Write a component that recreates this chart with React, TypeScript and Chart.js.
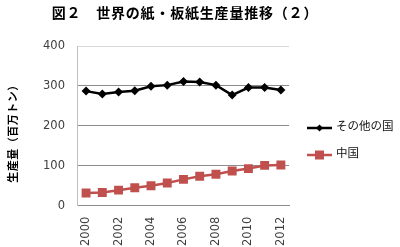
import React, { useEffect, useRef } from "react";
import { Chart, registerables } from "chart.js";

Chart.register(...registerables);

const years = ["2000","2001","2002","2003","2004","2005","2006","2007","2008","2009","2010","2011","2012"];
const others = [287, 280, 285, 288, 299, 302, 311, 310, 302, 277, 296, 296, 290];
const china = [32, 33, 39, 45, 50, 57, 66, 74, 79, 87, 93, 101, 102];
const yTicks = [0, 100, 200, 300, 400];
const titleText = "図２　世界の紙・板紙生産量推移（２）";
const yTitle = "生産量（百万トン）";
const seriesNames = ["その他の国", "中国"];

const JP = '"Noto Sans CJK JP", "Noto Sans", sans-serif';
const NUM = '"DejaVu Sans", Verdana, sans-serif';

const textPlugin = {
  id: "textDecor",
  afterDraw(chart: any) {
    const ctx = chart.ctx;
    const area = chart.chartArea;
    ctx.save();
    // chart title
    ctx.fillStyle = "#000000";
    ctx.font = `bold 14px ${JP}`;
    ctx.textAlign = "center";
    ctx.textBaseline = "middle";
    (ctx as any).letterSpacing = "0.8px";
    ctx.fillText(titleText, 185, 13);
    (ctx as any).letterSpacing = "0.5px";
    // y axis title
    ctx.save();
    ctx.translate(13, 131);
    ctx.rotate(-Math.PI / 2);
    ctx.font = `bold 11px ${JP}`;
    ctx.fillText(yTitle, 0, 0);
    ctx.restore();
    (ctx as any).letterSpacing = "0px";
    // legend
    const x0 = area.right + 18;
    const rows = [area.top + 80, area.top + 107];
    chart.data.datasets.forEach((ds: any, i: number) => {
      const y = rows[i];
      const ly = y + 2;
      ctx.strokeStyle = ds.borderColor;
      ctx.lineWidth = 2.5;
      ctx.beginPath();
      ctx.moveTo(x0, ly);
      ctx.lineTo(x0 + 25, ly);
      ctx.stroke();
      ctx.fillStyle = ds.backgroundColor;
      const cx = x0 + 12.5;
      if (ds.pointStyle === "rectRot") {
        ctx.beginPath();
        ctx.moveTo(cx, ly - 3.5);
        ctx.lineTo(cx + 3.5, ly);
        ctx.lineTo(cx, ly + 3.5);
        ctx.lineTo(cx - 3.5, ly);
        ctx.closePath();
        ctx.fill();
      } else {
        ctx.fillRect(cx - 4.5, ly - 4.5, 9, 9);
      }
      ctx.fillStyle = "#111111";
      ctx.font = `11.5px ${JP}`;
      ctx.textBaseline = "middle";
      ctx.textAlign = "left";
      ctx.fillText(ds.label, x0 + 29, y);
    });
    ctx.restore();
  },
};

export default function App() {
  const ref = useRef<HTMLCanvasElement | null>(null);
  useEffect(() => {
    document.body.style.margin = "0";
    const chart = new Chart(ref.current!, {
      type: "line",
      data: {
        labels: years,
        datasets: [
          {
            label: seriesNames[0],
            data: others,
            borderColor: "#000000",
            backgroundColor: "#000000",
            borderWidth: 2.5,
            pointStyle: "rectRot",
            pointRadius: 4.5,
            pointBorderWidth: 0,
            tension: 0,
          },
          {
            label: seriesNames[1],
            data: china,
            borderColor: "#C0504D",
            backgroundColor: "#C0504D",
            borderWidth: 2.5,
            pointStyle: "rect",
            pointRadius: 6.3,
            pointBorderWidth: 0,
            tension: 0,
          },
        ],
      },
      options: {
        animation: false,
        responsive: true,
        maintainAspectRatio: false,
        layout: { padding: { left: 30, right: 111, top: 46, bottom: -10 } },
        plugins: {
          title: { display: false },
          legend: { display: false },
          tooltip: { enabled: false },
        },
        scales: {
          x: {
            offset: true,
            grid: { display: false, drawTicks: false },
            border: { display: true, color: "#8c8c8c", width: 1 },
            ticks: {
              autoSkip: false,
              maxRotation: 90,
              minRotation: 90,
              color: "#404040",
              font: { family: NUM, size: 11.5 },
              padding: 11,
              callback: (_v: any, i: number) => (i % 2 === 0 ? years[i] : ""),
            },
          },
          y: {
            min: 0,
            max: 400,
            afterBuildTicks: (axis: any) => {
              axis.ticks = yTicks.map((v) => ({ value: v }));
            },
            grid: {
              drawTicks: false,
              color: (c: any) => (c.tick && c.tick.value === 400 ? "#d9d9d9" : "#8c8c8c"),
              lineWidth: 1,
            },
            border: { display: true, color: "#bfbfbf", width: 1 },
            ticks: {
              color: "#404040",
              font: { family: NUM, size: 11.5 },
              padding: 13,
            },
          },
        },
      },
      plugins: [textPlugin],
    });
    return () => chart.destroy();
  }, []);
  return (
    <div style={{ position: "absolute", left: 0, top: 0, width: 400, height: 247, background: "#ffffff" }}>
      <canvas ref={ref} />
    </div>
  );
}
